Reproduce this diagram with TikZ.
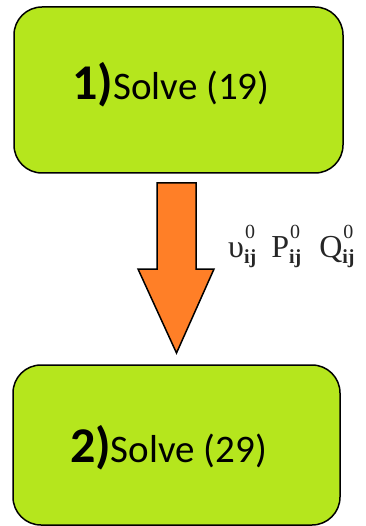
\documentclass[tikz,border=0pt]{standalone}
\usepackage{fontspec}
\usetikzlibrary{calc}
\setmainfont{Carlito}
\newfontfamily\tms{Liberation Serif}
\definecolor{lime}{RGB}{181,230,29}
\definecolor{orng}{RGB}{255,127,39}
\newcommand\supsub[2]{{\tms\fontsize{20}{20}\selectfont\ooalign{\hfil\raisebox{19pt}{#1}\hfil\cr\raisebox{-6pt}{\bfseries #2}}}}
\tikzset{
  stepbox/.style={draw=black, line width=1.5pt, fill=lime, rounded corners=28pt, inner sep=0pt},
  steptext/.style={anchor=base, inner sep=0pt, text=black},
  blockarrow/.style={draw=black, line width=1.5pt, fill=orng, line join=miter},
}
\begin{document}
\begin{tikzpicture}[x=1pt, y=-1pt]
\useasboundingbox (0,0) rectangle (365,526);
\node[stepbox, minimum width=329pt, minimum height=166pt] (b1) at (178.5,90) {};
\node[stepbox, minimum width=327pt, minimum height=160pt] (b2) at (176.5,445) {};
\node[steptext] (t1) at (171,100) {\fontsize{50}{50}\selectfont\bfseries 1)\fontsize{39}{39}\selectfont\mdseries Solve (19)};
\node[steptext] (t2) at (168.5,462) {\fontsize{50}{50}\selectfont\bfseries 2)\fontsize{39}{39}\selectfont\mdseries Solve (29)};
\coordinate (s) at (176.5,183);
\coordinate (tip) at (176.5,353);
\draw[blockarrow] ($(s)+(-19.5,0)$) -- ($(s)+(19.5,0)$) -- ($(s)+(19.5,86)$) -- ($(s)+(37.5,86)$) -- (tip) -- ($(s)+(-38.5,86)$) -- ($(s)+(-19.5,86)$) -- cycle;
\node[anchor=base west, inner sep=0pt, text=black!85] (lab) at (228,257) {\tms\fontsize{32}{32}\selectfont υ\supsub{0}{ij}\hspace{15pt}P\supsub{0}{ij}\hspace{18pt}Q\supsub{0}{ij}};
\end{tikzpicture}
\end{document}
